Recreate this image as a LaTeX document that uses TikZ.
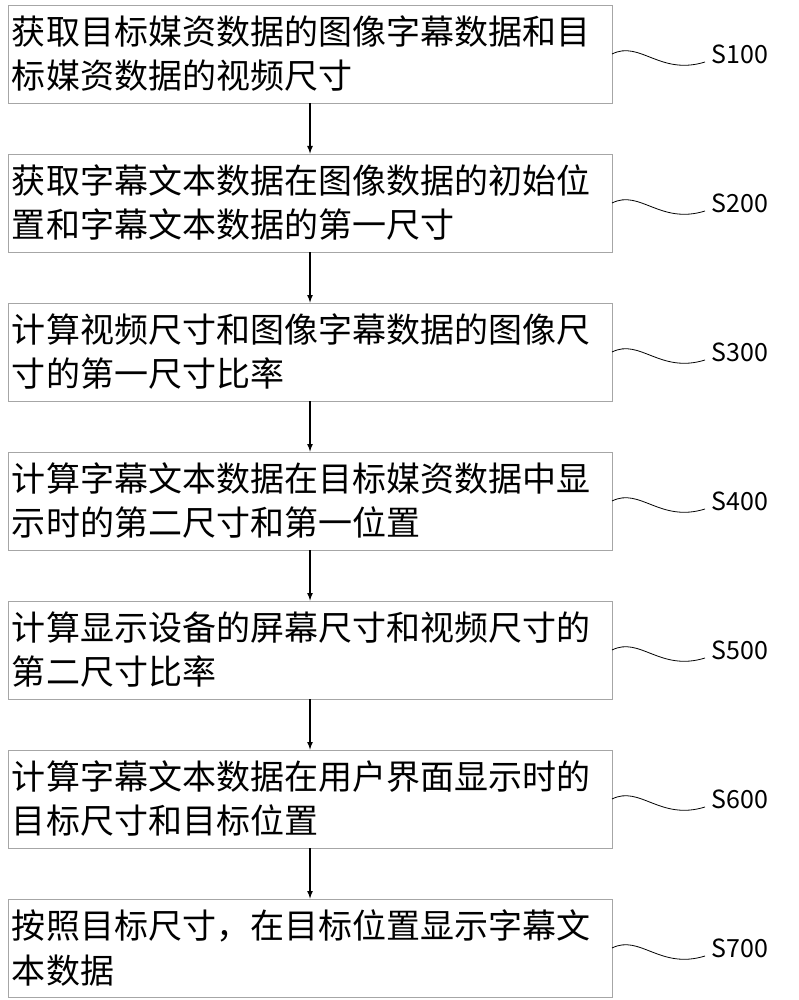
\documentclass[tikz,border=0pt]{standalone}
\usepackage{fontspec}
\setmainfont{Noto Sans CJK SC}
\usetikzlibrary{positioning}
\begin{document}
\begin{tikzpicture}[x=1pt,y=-1pt,
    stepbox/.style={draw=gray!70, thick, minimum width=604pt, minimum height=98pt, text width=596pt, align=left, inner sep=4pt, font=\fontsize{34}{44}\selectfont},
    steplabel/.style={anchor=west, font=\fontsize{25}{26}\selectfont}]

    \useasboundingbox (0,0) rectangle (799,1000);

    % Steps
    \foreach \i/\txt in {1/{获取目标媒资数据的图像字幕数据和目\\标媒资数据的视频尺寸},
        2/{获取字幕文本数据在图像数据的初始位\\置和字幕文本数据的第一尺寸},
        3/{计算视频尺寸和图像字幕数据的图像尺\\寸的第一尺寸比率},
        4/{计算字幕文本数据在目标媒资数据中显\\示时的第二尺寸和第一位置},
        5/{计算显示设备的屏幕尺寸和视频尺寸的\\第二尺寸比率},
        6/{计算字幕文本数据在用户界面显示时的\\目标尺寸和目标位置},
        7/{按照目标尺寸，在目标位置显示字幕文\\本数据}} {
        \pgfmathsetmacro{\cy}{54+149*(\i-1)}
        \node[stepbox] (s\i) at (310,\cy) {\txt};
        \coordinate (w\i) at (612,\cy);
        \draw[thick] (w\i) .. controls (640,\cy-14) and (660,\cy+22) .. (705,\cy+8);
        \node[steplabel] (l\i) at (708,\cy) {S\i00};
    }

    % Arrows
    \foreach \i [evaluate=\i as \j using int(\i+1)] in {1,...,6} {
        \draw[line width=1.6pt,-latex] (s\i) -- (s\j);
    }

\end{tikzpicture}
\end{document}
